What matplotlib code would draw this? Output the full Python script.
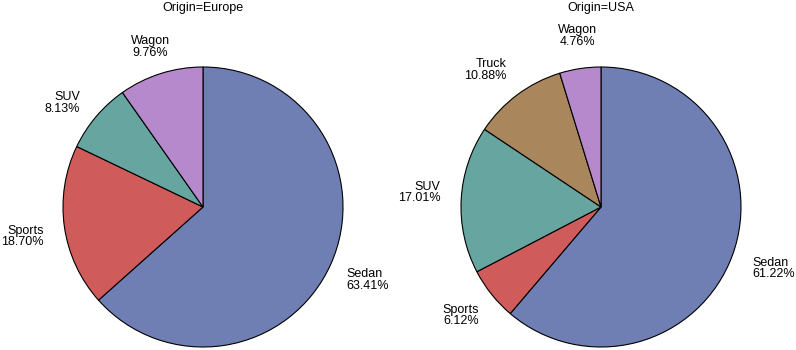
import numpy as np
import matplotlib
matplotlib.use('Agg')
import matplotlib.pyplot as plt

plt.rcParams['font.family'] = ['Liberation Sans', 'DejaVu Sans']

# car type share by origin (percent)
europe_types = ['Sedan', 'Sports', 'SUV', 'Wagon']
europe_pct = [63.41, 18.70, 8.13, 9.76]

usa_types = ['Sedan', 'Sports', 'SUV', 'Truck', 'Wagon']
usa_pct = [61.22, 6.12, 17.01, 10.88, 4.76]

type_colors = {
    'Sedan': '#6F7EB3',
    'Sports': '#D05B5B',
    'SUV': '#66A5A0',
    'Truck': '#A9865B',
    'Wagon': '#B689CD',
}

# small hand nudges (pixels) so labels don't crowd the rim
europe_nudge = {'Sedan': (-4, -7), 'Sports': (0, -7), 'Wagon': (-4, -5)}
usa_nudge = {'Sedan': (0, -6), 'Sports': (4, -8), 'SUV': (0, 6), 'Truck': (2, -4)}

W, H = 796, 350
RADIUS = 140


def draw_pie(ax, cx, cy, types, pct, title, nudge):
    wedges, _ = ax.pie(pct, colors=[type_colors[t] for t in types],
                       startangle=90, counterclock=False,
                       center=(cx, cy), radius=RADIUS,
                       wedgeprops=dict(edgecolor='black', linewidth=0.8))
    for w, t, p in zip(wedges, types, pct):
        mid = np.deg2rad((w.theta1 + w.theta2) / 2)
        c, s = np.cos(mid), np.sin(mid)
        dx, dy = nudge.get(t, (0, 0))
        x = cx + 1.15 * RADIUS * c + dx
        y = cy + 1.15 * RADIUS * s + dy
        if c > 0.35:
            ha = 'left'
        elif c < -0.35:
            ha = 'right'
        else:
            ha = 'center'
        if s > 0.8:
            va = 'bottom'
        elif s < -0.8:
            va = 'top'
        else:
            va = 'center'
        ax.text(x, y, f'{t}\n{p:.2f}%', ha=ha, va=va, multialignment=ha,
                fontsize=9, linespacing=0.95)
    ax.text(cx, H - 8, title, ha='center', va='center', fontsize=9)


fig = plt.figure(figsize=(W / 100, H / 100), dpi=100)
ax = fig.add_axes([0, 0, 1, 1])

draw_pie(ax, 203, H - 207, europe_types, europe_pct, 'Origin=Europe', europe_nudge)
draw_pie(ax, 601, H - 207, usa_types, usa_pct, 'Origin=USA', usa_nudge)

ax.set_xlim(0, W)
ax.set_ylim(0, H)
ax.set_aspect('auto')
ax.axis('off')

fig.savefig('out.png', dpi=100)
